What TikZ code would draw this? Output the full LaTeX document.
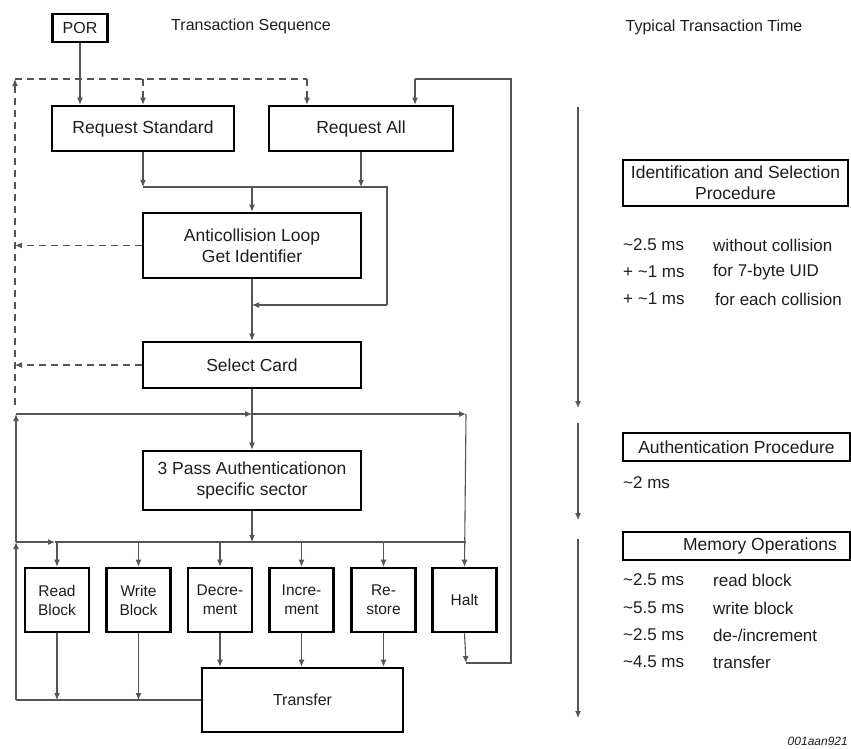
\documentclass[tikz,border=0pt]{standalone}
\usepackage{fontspec}
\setmainfont{Liberation Sans}
\usetikzlibrary{arrows.meta}
\definecolor{ln}{HTML}{555555}
\definecolor{tx}{HTML}{1E1E1E}
\begin{document}
\begin{tikzpicture}[x=1pt,y=-1pt,
  box/.style={draw=black,line width=2.6pt,inner sep=0pt,align=center,text=tx,
    font=\fontsize{17.5}{21}\selectfont},
  opbox/.style={box,minimum width=64pt,minimum height=64pt,font=\fontsize{15.5}{19}\selectfont},
  conn/.style={draw=ln,line width=1.1pt},
  arr/.style={conn,-{Latex[length=7pt,width=6pt]}},
  dconn/.style={conn,dash pattern=on 7pt off 5pt},
  darr/.style={dconn,-{Latex[length=7pt,width=6pt]}},
  lbl/.style={text=tx,inner sep=0pt,font=\fontsize{16}{19}\selectfont},
  tim/.style={text=tx,inner sep=0pt,anchor=west,font=\fontsize{17}{20}\selectfont}]
\useasboundingbox (0,0) rectangle (851,748);
\fill[white] (0,0) rectangle (851,748);

% headings
\node[lbl] (hseq) at (251,26) {Transaction Sequence};
\node[lbl] (htime) at (714,27) {Typical Transaction Time};

% boxes
\node[box,minimum width=55pt,minimum height=28pt,font=\fontsize{16}{19}\selectfont] (POR) at (80,28) {POR};
\node[box,minimum width=182pt,minimum height=45pt] (RS) at (143,128.5) {Request Standard};
\node[box,minimum width=184pt,minimum height=45pt] (RA) at (361,128.5) {Request All};
\node[box,minimum width=218pt,minimum height=65pt] (AC) at (252,245.5) {Anticollision Loop\\Get Identifier};
\node[box,minimum width=218pt,minimum height=46pt] (SC) at (252,365) {Select Card};
\node[box,minimum width=218pt,minimum height=59pt] (AU) at (252,480.5) {3 Pass Authenticationon\\specific sector};
\node[opbox] (RB) at (57,600) {Read\\Block};
\node[opbox] (WB) at (138.5,600) {Write\\Block};
\node[opbox] (DE) at (220,600) {Decre-\\ment};
\node[opbox] (IN) at (301.5,600) {Incre-\\ment};
\node[opbox] (RE) at (383.5,600) {Re-\\store};
\node[opbox] (HA) at (464.5,600) {Halt};
\node[box,minimum width=201pt,minimum height=64pt,font=\fontsize{16}{19}\selectfont] (TR) at (302.5,700) {Transfer};

% coordinates
\coordinate (tl) at (15,79);
\coordinate (tm) at (143,79);
\coordinate (tr) at (307,79);
\coordinate (rq) at (143,187);
\coordinate (rj) at (387,187);
\coordinate (rk) at (387,305);
\coordinate (aj) at (252,187);
\coordinate (dl) at (15,405);
\coordinate (s1) at (16,414);
\coordinate (s2) at (252,414);
\coordinate (s3) at (466,414);
\coordinate (m1) at (16,542);
\coordinate (m2) at (252,542);
\coordinate (m3) at (466,542);
\coordinate (b1) at (16,700);
\coordinate (h1) at (466,663);
\coordinate (h2) at (511,663);
\coordinate (h3) at (511,79);
\coordinate (h4) at (415,79);

% POR
\draw[arr] (POR.south) -- (POR.south |- RS.north);
% dashed return paths
\draw[darr] (AC.west) -- (AC.west -| tl);
\draw[darr] (SC.west) -- (SC.west -| tl);
\draw[darr] (dl) -- (tl);
\draw[dconn] (tl) -- (tr);
\draw[darr] (tr) -- (tr |- RA.north);
\draw[darr] (tm) -- (tm |- RS.north);
% request -> anticollision
\draw[arr] (RS.south) -- (rq);
\draw[arr] (RA.south) -- (RA.south |- rq);
\draw[conn] (rq) -- (rj) -- (rk);
\draw[arr] (rk) -- (rk -| AC.south);
\draw[arr] (aj) -- (AC.north);
\draw[arr] (AC.south) -- (SC.north);
\draw[arr] (SC.south) -- (AU.north);
% loop line at 414
\draw[arr] (s1) -- (s2);
\draw[arr] (s2) -- (s3);
\draw[arr] (s3) -- (HA.north);
% left vertical
\draw[arr] (b1) -- (m1);
\draw[arr] (m1) -- (s1);
% line at 542
\draw[arr] (m1) -- (55,542);
\draw[conn] (55,542) -- (m3);
\draw[arr] (AU.south) -- (m2);
\draw[arr] (RB.north |- m1) -- (RB.north);
\draw[arr] (WB.north |- m1) -- (WB.north);
\draw[arr] (DE.north |- m1) -- (DE.north);
\draw[arr] (IN.north |- m1) -- (IN.north);
\draw[arr] (RE.north |- m1) -- (RE.north);
% bottom
\draw[arr] (RB.south) -- (RB.south |- b1);
\draw[arr] (WB.south) -- (WB.south |- b1);
\draw[conn] (b1) -- (TR.west);
\draw[arr] (DE.south) -- (DE.south |- TR.north);
\draw[arr] (IN.south) -- (IN.south |- TR.north);
\draw[arr] (RE.south) -- (RE.south |- TR.north);
% halt loop
\draw[arr] (HA.south) -- (h1);
\draw[conn] (h1) -- (h2) -- (h3) -- (h4);
\draw[arr] (h4) -- (h4 |- RA.north);

% time axis
\coordinate (t1) at (578,107);
\coordinate (t2) at (578,408);
\coordinate (t3) at (578,423);
\coordinate (t4) at (578,520);
\coordinate (t5) at (578,539);
\coordinate (t6) at (578,718);
\draw[arr] (t1) -- (t2);
\draw[arr] (t3) -- (t4);
\draw[arr] (t5) -- (t6);

% right side boxes
\node[box,minimum width=225pt,minimum height=46pt,font=\fontsize{17.5}{21}\selectfont] (ID) at (735.5,183) {Identification and Selection\\Procedure};
\node[box,minimum width=227pt,minimum height=28pt,font=\fontsize{17.5}{21}\selectfont] (AP) at (736.5,447) {Authentication Procedure};
\node[box,minimum width=227pt,minimum height=28pt] (MO) at (736.5,546) {};
\node[text=tx,inner sep=0pt,anchor=east,font=\fontsize{17.5}{21}\selectfont] (MOt) at (837,546) {Memory Operations};

% times
\node[tim] (a1) at (623,245) {\textasciitilde2.5 ms};
\node[tim] (a2) at (713,245) {without collision};
\node[tim] (b1t) at (623,272) {+ \textasciitilde1 ms};
\node[tim] (b2t) at (713,272) {for 7-byte UID};
\node[tim] (c1) at (623,299) {+ \textasciitilde1 ms};
\node[tim] (c2) at (715,299) {for each collision};
\node[tim] (d1) at (623,483) {\textasciitilde2 ms};
\node[tim] (e1) at (623,580) {\textasciitilde2.5 ms};
\node[tim] (e2) at (713,580) {read block};
\node[tim] (f1) at (623,608) {\textasciitilde5.5 ms};
\node[tim] (f2) at (713,608) {write block};
\node[tim] (g1) at (623,635) {\textasciitilde2.5 ms};
\node[tim] (g2) at (713,635) {de-/increment};
\node[tim] (k1) at (623,662) {\textasciitilde4.5 ms};
\node[tim] (k2) at (713,662) {transfer};

\node[text=tx,inner sep=0pt,anchor=east,font=\fontsize{12}{14}\itshape] (id) at (848,741) {001aan921};
\end{tikzpicture}
\end{document}
